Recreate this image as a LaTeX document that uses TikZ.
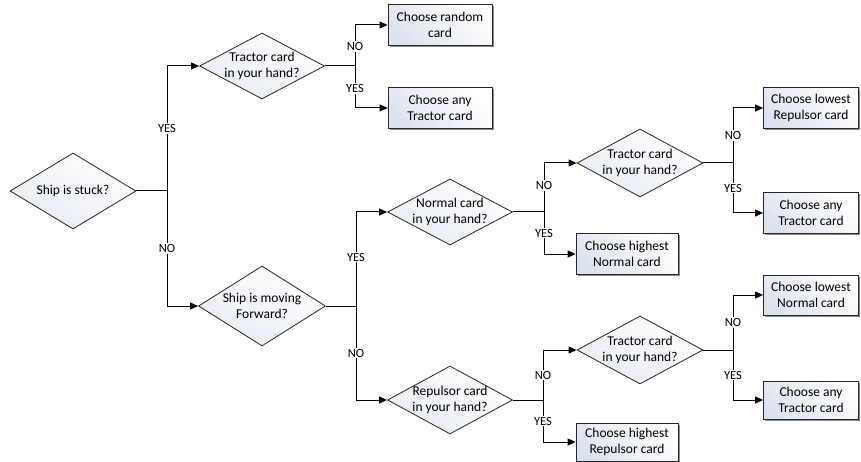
\documentclass[tikz,border=0pt]{standalone}
\usepackage{fontspec}
\setmainfont{Carlito}
\usetikzlibrary{shapes.geometric,arrows.meta,shadows}
\definecolor{fillA}{HTML}{FFFFFF}
\definecolor{fillB}{HTML}{DDE3EE}
\definecolor{lineC}{HTML}{262626}
\tikzset{
  dia/.style={diamond,draw=lineC,line width=0.8pt,inner sep=0pt,
    top color=fillA,bottom color=fillB!70,shading angle=-30},
  diatext/.style={align=center,font=\fontsize{13.5}{16.5}\selectfont,inner sep=0pt},
  card/.style={rectangle,draw=lineC,line width=0.8pt,align=center,
    font=\fontsize{13.5}{16.5}\selectfont,
    left color=fillA,right color=fillB,shading angle=-45,
    drop shadow={shadow xshift=1.6pt,shadow yshift=-1.6pt,fill=black,opacity=0.45}},
  conn/.style={draw=black,line width=1pt},
  arr/.style={conn,-{Triangle[length=8pt,width=7pt]}},
  lab/.style={fill=white,inner sep=1.2pt,font=\fontsize{12.5}{14}\selectfont}
}
\begin{document}
\begin{tikzpicture}[x=1pt,y=-1pt]
\useasboundingbox (0,0) rectangle (861,462);
% diamonds
\node[dia,minimum width=126pt,minimum height=76pt] (d1) at (73,191) {};
\node[diatext] (d1t) at (d1) {Ship is stuck?};
\node[dia,minimum width=125pt,minimum height=66pt] (d2) at (262,66) {};
\node[diatext] (d2t) at (d2) {Tractor card\\in your hand?};
\node[dia,minimum width=127pt,minimum height=80pt] (d3) at (262,306) {};
\node[diatext] (d3t) at (d3) {Ship is moving\\Forward?};
\node[dia,minimum width=125pt,minimum height=66pt] (d4) at (450,212) {};
\node[diatext] (d4t) at (d4) {Normal card\\in your hand?};
\node[dia,minimum width=126pt,minimum height=68pt] (d5) at (640,163) {};
\node[diatext] (d5t) at (d5) {Tractor card\\in your hand?};
\node[dia,minimum width=125pt,minimum height=68pt] (d6) at (450,400) {};
\node[diatext] (d6t) at (d6) {Repulsor card\\in your hand?};
\node[dia,minimum width=126pt,minimum height=68pt] (d7) at (640,350) {};
\node[diatext] (d7t) at (d7) {Tractor card\\in your hand?};
% boxes
\node[card,minimum width=104pt,minimum height=41pt] (b1) at (440,25) {Choose random\\card};
\node[card,minimum width=104pt,minimum height=41pt] (b2) at (440,108) {Choose any\\Tractor card};
\node[card,minimum width=102pt,minimum height=41pt] (b3) at (627,254) {Choose highest\\Normal card};
\node[card,minimum width=95pt,minimum height=41pt] (b4) at (811,108) {Choose lowest\\Repulsor card};
\node[card,minimum width=95pt,minimum height=41pt] (b5) at (811,213) {Choose any\\Tractor card};
\node[card,minimum width=102pt,minimum height=38pt] (b6) at (627,442) {Choose highest\\Repulsor card};
\node[card,minimum width=95pt,minimum height=40pt] (b7) at (811,295) {Choose lowest\\Normal card};
\node[card,minimum width=95pt,minimum height=38pt] (b8) at (811,400) {Choose any\\Tractor card};
% junctions
\coordinate (j1) at (167,191);
\coordinate (j2) at (355,66);
\coordinate (j3) at (356,306);
\coordinate (j4) at (544,212);
\coordinate (j5) at (733,163);
\coordinate (j6) at (543,400);
\coordinate (j7) at (733,350);
% connectors
\draw[conn] (d1.east) -- (j1);
\draw[arr] (j1) |- node[lab,pos=0.25]{YES} (d2.west);
\draw[arr] (j1) |- node[lab,pos=0.25]{NO} (d3.west);
\draw[conn] (d2.east) -- (j2);
\draw[arr] (j2) |- node[lab,pos=0.24]{NO} (b1.west);
\draw[arr] (j2) |- node[lab,pos=0.27]{YES} (b2.west);
\draw[conn] (d3.east) -- (j3);
\draw[arr] (j3) |- node[lab,pos=0.26]{YES} (d4.west);
\draw[arr] (j3) |- node[lab,pos=0.25]{NO} (d6.west);
\draw[conn] (d4.east) -- (j4);
\draw[arr] (j4) |- node[lab,pos=0.27]{NO} (d5.west);
\draw[arr] (j4) |- node[lab,pos=0.25]{YES} (b3.west);
\draw[conn] (d5.east) -- (j5);
\draw[arr] (j5) |- node[lab,pos=0.25]{NO} (b4.west);
\draw[arr] (j5) |- node[lab,pos=0.25]{YES} (b5.west);
\draw[conn] (d6.east) -- (j6);
\draw[arr] (j6) |- node[lab,pos=0.25]{NO} (d7.west);
\draw[arr] (j6) |- node[lab,pos=0.25]{YES} (b6.west);
\draw[conn] (d7.east) -- (j7);
\draw[arr] (j7) |- node[lab,pos=0.25]{NO} (b7.west);
\draw[arr] (j7) |- node[lab,pos=0.25]{YES} (b8.west);
\end{tikzpicture}
\end{document}
